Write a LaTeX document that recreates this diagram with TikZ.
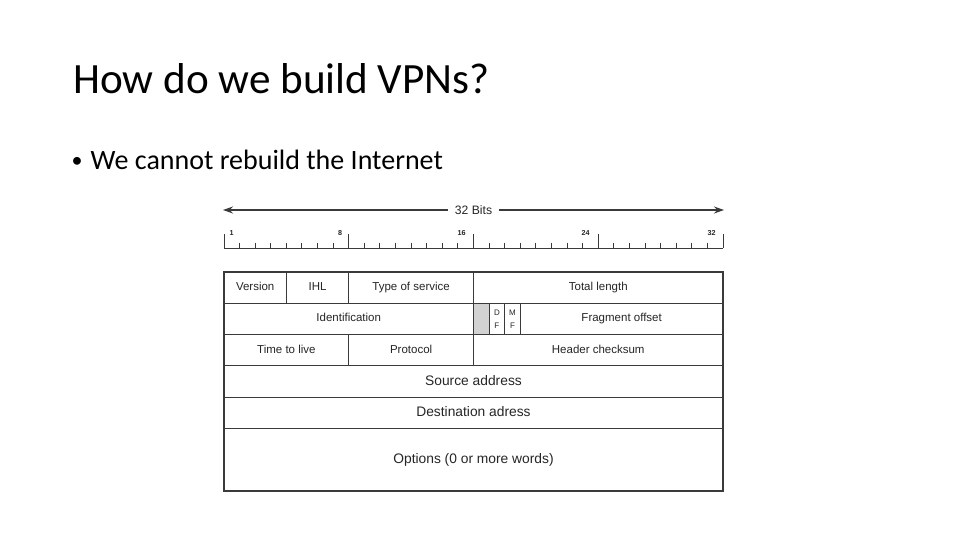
\documentclass[tikz,border=0pt]{standalone}
\usepackage{fontspec}
\setmainfont{Carlito}
\newfontfamily\arialf{Liberation Sans}
\usetikzlibrary{arrows.meta}
\definecolor{linec}{HTML}{3A3A3A}
\definecolor{textc}{HTML}{262626}
\definecolor{resgray}{HTML}{D2D2D2}
\tikzset{
  cellbox/.style={draw=linec, line width=1.1pt, inner sep=0pt, text=textc,
    font=\arialf\fontsize{11.5}{13}\selectfont, text height=8.3pt, text depth=2.4pt},
  bigcell/.style={cellbox, font=\arialf\fontsize{13.8}{16}\selectfont, text height=10pt, text depth=2.9pt},
  flagcell/.style={draw=linec, line width=1.1pt, inner sep=0pt, text=textc, align=center,
    font=\arialf\fontsize{8}{13}\selectfont},
  rulelbl/.style={inner sep=0pt, text=textc, font=\arialf\bfseries\fontsize{7.2}{8}\selectfont,
    text height=5.2pt, text depth=0pt},
  tick/.style={draw=linec, line width=1pt},
  bitarrow/.style={draw=linec, line width=1.2pt, -{Stealth[length=10pt,width=7pt]}}
}
% \mycell{name}{x1}{y1}{x2}{y2}{style}{text}
\newcommand{\mycell}[7]{%
  \node[#6, minimum width={#4-#2}, minimum height={#5-#3}] (#1) at ({(#2+#4)/2},{(#3+#5)/2}) {#7};}
\begin{document}
\begin{tikzpicture}[x=1pt,y=-1pt]
\useasboundingbox (0,0) rectangle (960,540);
\fill[white] (0,0) rectangle (960,540);
% title and bullet
\node[anchor=base west, inner sep=0pt, font=\fontsize{43.2}{50}\selectfont] (title) at (73,93.5) {How do we build VPNs?};
\node[inner sep=0pt, font=\fontsize{22}{26}\selectfont] (bdot) at (77,162) {\textbullet};
\node[anchor=base west, inner sep=0pt, font=\fontsize{28}{33}\selectfont] (bullet) at (90.5,169.8) {We cannot rebuild the Internet};
% 32 bits arrow
\node[inner sep=0pt, text=textc, font=\arialf\fontsize{12.2}{14}\selectfont] (bits) at (473.5,210) {32 Bits};
\coordinate (lend) at (223,210);
\coordinate (rend) at (724,210);
\draw[bitarrow] ([xshift=-7pt]bits.west) -- (lend);
\draw[bitarrow] ([xshift=7pt]bits.east) -- (rend);
% ruler
\draw[tick] (224,248) -- (723,248);
\foreach \k in {0,...,32}{
  \pgfmathsetmacro{\xx}{224+15.594*\k}
  \pgfmathtruncatemacro{\mm}{mod(\k,8)}
  \ifnum\mm=0
    \draw[tick] (\xx,234) -- (\xx,248);
  \else
    \draw[tick] (\xx,242.5) -- (\xx,248);
  \fi
}
\node[rulelbl] (r1) at (231.5,232.5) {1};
\node[rulelbl] (r8) at (340,232.5) {8};
\node[rulelbl] (r16) at (461.7,232.5) {16};
\node[rulelbl] (r24) at (585.7,232.5) {24};
\node[rulelbl] (r32) at (711.7,232.5) {32};
% header table
\mycell{ver}{224}{272}{286.4}{303.3}{cellbox}{Version}
\mycell{ihl}{286.4}{272}{348.75}{303.3}{cellbox}{IHL}
\mycell{tos}{348.75}{272}{473.5}{303.3}{cellbox}{Type of service}
\mycell{tlen}{473.5}{272}{723}{303.3}{cellbox}{Total length}
\mycell{ident}{224}{303.3}{473.5}{334.6}{cellbox}{Identification}
\mycell{res}{473.5}{303.3}{489.1}{334.6}{cellbox,fill=resgray}{}
\mycell{df}{489.1}{303.3}{504.7}{334.6}{flagcell}{D\\F}
\mycell{mf}{504.7}{303.3}{520.3}{334.6}{flagcell}{M\\F}
\mycell{frag}{520.3}{303.3}{723}{334.6}{cellbox}{Fragment offset}
\mycell{ttl}{224}{334.6}{348.75}{365.9}{cellbox}{Time to live}
\mycell{proto}{348.75}{334.6}{473.5}{365.9}{cellbox}{Protocol}
\mycell{chk}{473.5}{334.6}{723}{365.9}{cellbox}{Header checksum}
\mycell{src}{224}{365.9}{723}{397.1}{bigcell}{Source address}
\mycell{dst}{224}{397.1}{723}{428.4}{bigcell}{Destination adress}
\mycell{opt}{224}{428.4}{723}{491}{bigcell}{Options (0 or more words)}
\end{tikzpicture}
\end{document}
